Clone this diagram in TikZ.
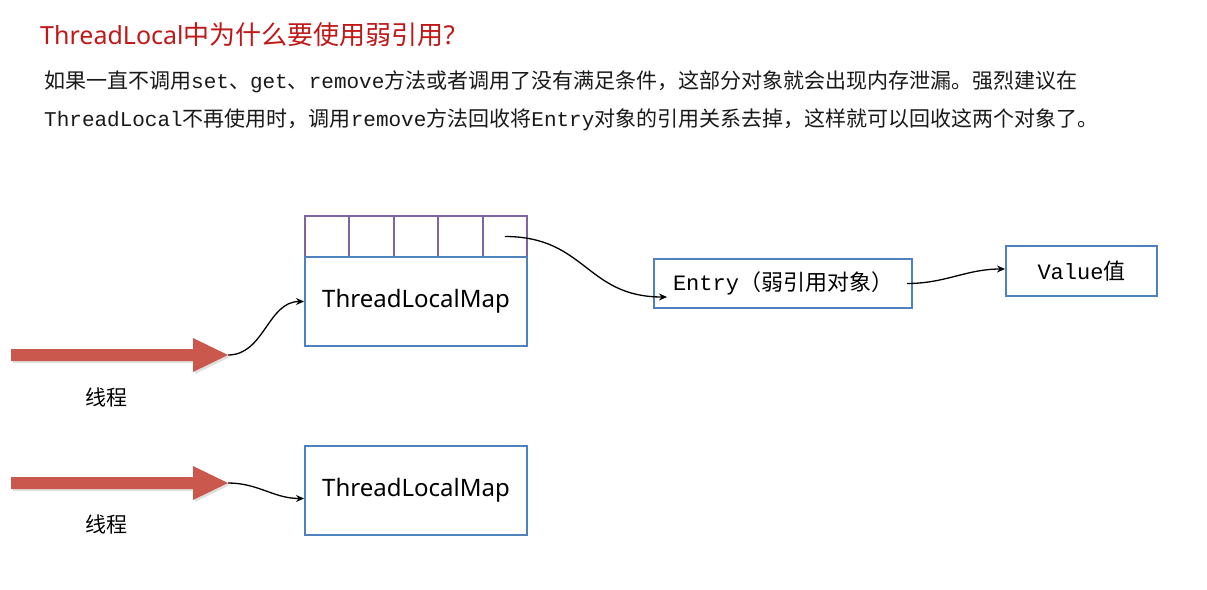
\documentclass[tikz,border=0pt]{standalone}
\usepackage{fontspec}
\setmainfont{Noto Sans CJK SC}
\newfontfamily\latfont{Noto Sans}
\newfontfamily\monofont{Liberation Mono}
\usetikzlibrary{arrows.meta}
\definecolor{titlered}{RGB}{192,24,24}
\definecolor{boxblue}{RGB}{79,129,189}
\definecolor{cellpurple}{RGB}{128,100,162}
\definecolor{threadred}{RGB}{203,88,76}
\definecolor{bodytxt}{RGB}{25,25,25}
\tikzset{
  mapbox/.style={draw=boxblue, line width=2pt, minimum width=222pt, minimum height=89pt, inner sep=0pt, font=\latfont\fontsize{24}{24}\selectfont},
  cellbox/.style={draw=cellpurple, line width=2pt, minimum width=44.4pt, minimum height=41pt, inner sep=0pt},
  objbox/.style={draw=boxblue, line width=2pt, inner sep=0pt, font=\fontsize{22}{22}\selectfont},
  txtline/.style={anchor=base west, inner sep=0pt, text=bodytxt, font=\fontsize{21}{21}\selectfont},
  thrd/.style={fill=threadred},
  thrdshadow/.style={fill=black, opacity=0.12},
  lnk/.style={-{Stealth[length=8pt,width=7pt]}, line width=1.3pt, black},
}
\newcommand{\mtt}[1]{{\monofont #1}}

\begin{document}
\begin{tikzpicture}[x=1pt,y=-1pt]
  \useasboundingbox (0,0) rectangle (1207,589);
  % heading and explanation
  \node[anchor=base west, inner sep=0pt, text=titlered, font=\fontsize{26}{26}\selectfont] (title) at (40,44)
    {{\latfont\fontsize{25}{25}\selectfont ThreadLocal}中为什么要使用弱引用{\latfont ?}};
  \node[txtline] (line1) at (44,88)
    {如果一直不调用\mtt{set}、\mtt{get}、\mtt{remove}方法或者调用了没有满足条件，这部分对象就会出现内存泄漏。强烈建议在};
  \node[txtline] (line2) at (44,126)
    {\mtt{ThreadLocal}不再使用时，调用\mtt{remove}方法回收将\mtt{Entry}对象的引用关系去掉，这样就可以回收这两个对象了。};

  % threads
  \fill[thrdshadow] (13,351) -- (195,351) -- (195,340) -- (230,357) -- (195,374) -- (195,363) -- (13,363) -- cycle;
  \fill[thrd] (11,349) -- (193,349) -- (193,338) -- (228,355) -- (193,372) -- (193,361) -- (11,361) -- cycle;
  \coordinate (t1) at (228,355);
  \node[font=\fontsize{21}{21}\selectfont] (lbl1) at (106,397) {线程};
  \fill[thrdshadow] (13,479) -- (195,479) -- (195,468) -- (230,485) -- (195,502) -- (195,491) -- (13,491) -- cycle;
  \fill[thrd] (11,477) -- (193,477) -- (193,466) -- (228,483) -- (193,500) -- (193,489) -- (11,489) -- cycle;
  \coordinate (t2) at (228,483);
  \node[font=\fontsize{21}{21}\selectfont] (lbl2) at (106,524) {线程};

  % maps
  \foreach \i in {1,...,5}
    \node[cellbox] (c\i) at ({305+44.4*(\i-0.5)},236.5) {};
  \node[mapbox] (map1) at (416,301.5) {ThreadLocalMap};
  \node[mapbox] (map2) at (416,490.5) {ThreadLocalMap};

  % entry and value
  \node[objbox, minimum width=258pt, minimum height=49pt] (entry) at (783,283.5) {\mtt{Entry}（弱引用对象）};
  \node[objbox, minimum width=151pt, minimum height=50pt] (value) at (1081.5,271) {\mtt{Value}值};
  \coordinate (entryin) at (667,297);

  \draw[lnk] (t1) to[out=0,in=180] (map1.west);
  \draw[lnk] (t2) to[out=0,in=180] ([yshift=-8pt]map2.west);
  \draw[lnk] (c5.center) to[out=0,in=180,looseness=1.2] (entryin);
  \draw[lnk] ([xshift=-6pt]entry.east) to[out=0,in=180] ([yshift=2pt]value.west);
\end{tikzpicture}
\end{document}
